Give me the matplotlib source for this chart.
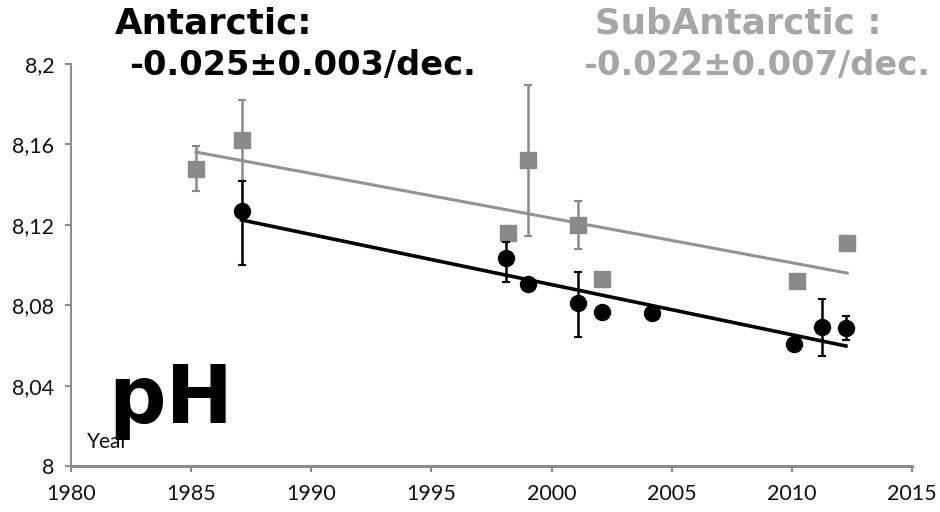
import numpy as np
import matplotlib.pyplot as plt
from matplotlib.ticker import FuncFormatter

# SubAntarctic series (grey squares)
sub_years = [1985.2, 1987.1, 1998.2, 1999.0, 2001.1, 2002.1, 2010.2, 2012.3]
sub_ph = [8.148, 8.162, 8.116, 8.152, 8.120, 8.093, 8.092, 8.111]
sub_err = [0.011, 0.020, 0.0, 0.0375, 0.012, 0.0, 0.0, 0.0]

# Antarctic series (black circles)
ant_years = [1987.1, 1998.1, 1999.0, 2001.1, 2002.1, 2004.2, 2010.1, 2011.25, 2012.25]
ant_ph = [8.127, 8.1035, 8.0905, 8.081, 8.0766, 8.076, 8.0607, 8.069, 8.0687]
ant_err_low = [0.027, 0.012, 0.0, 0.017, 0.0, 0.0, 0.0, 0.0142, 0.006]
ant_err_up = [0.015, 0.008, 0.0, 0.0154, 0.0, 0.0, 0.0, 0.0142, 0.006]

# trend lines (start, end)
sub_trend_years = [1985.2, 2012.3]
sub_trend_ph = [8.1562, 8.0960]
ant_trend_years = [1987.1, 2012.25]
ant_trend_ph = [8.1224, 8.0597]

x_ticks = [1980, 1985, 1990, 1995, 2000, 2005, 2010, 2015]
y_ticks = [8.0, 8.04, 8.08, 8.12, 8.16, 8.2]

grey_mark = '#8a8a8a'
grey_line = '#939393'
grey_text = '#a6a6a6'
spine_col = '#8c8c8c'

fig = plt.figure(figsize=(9.4, 5.12), dpi=100)
ax = fig.add_axes([71/940, 46/512, 841/940, 402/512])

ax.plot(sub_trend_years, sub_trend_ph, color=grey_line, lw=2.2, zorder=2)
ax.plot(ant_trend_years, ant_trend_ph, color='black', lw=2.6, zorder=3)

ax.errorbar(sub_years, sub_ph, yerr=sub_err, fmt='s', ms=11.5, color=grey_mark,
            ecolor=grey_mark, elinewidth=1.8, capsize=3, capthick=1.5, zorder=4)
ax.errorbar(ant_years, ant_ph, yerr=[ant_err_low, ant_err_up], fmt='o', ms=11.5,
            color='black', ecolor='black', elinewidth=1.8, capsize=3, capthick=1.5, zorder=5)

ax.set_xlim(1980, 2015)
ax.set_ylim(8.0, 8.2)
ax.set_xticks(x_ticks)
ax.set_yticks(y_ticks)
ax.yaxis.set_major_formatter(FuncFormatter(lambda v, p: ('%g' % round(v, 2)).replace('.', ',')))

for s in ['top', 'right']:
    ax.spines[s].set_visible(False)
ax.spines['left'].set_color(spine_col)
ax.spines['left'].set_linewidth(1.5)
ax.spines['bottom'].set_color(spine_col)
ax.spines['bottom'].set_linewidth(2.2)
ax.tick_params(axis='both', colors=spine_col, labelcolor='#111111', length=4, width=1.5,
               labelsize=15.5)
ax.tick_params(axis='y', pad=8)
ax.tick_params(axis='x', pad=9)
for lab in ax.get_xticklabels() + ax.get_yticklabels():
    lab.set_family('Lato')

fig.text(115/940, 1 - 33/512, 'Antarctic:', fontsize=25.7, fontweight='bold',
         family='DejaVu Sans', color='black', va='baseline')
fig.text(129/940, 1 - 75/512, '-0.025±0.003/dec.', fontsize=24.2, fontweight='bold',
         family='DejaVu Sans', color='black', va='baseline')
fig.text(595/940, 1 - 33/512, 'SubAntarctic :', fontsize=25.7, fontweight='bold',
         family='DejaVu Sans', color=grey_text, va='baseline')
fig.text(583/940, 1 - 75/512, '-0.022±0.007/dec.', fontsize=24.2, fontweight='bold',
         family='DejaVu Sans', color=grey_text, va='baseline')

fig.text(87/940, 1 - 448/512, 'Year', fontsize=15, family='Lato', color='#111111',
         va='baseline', zorder=5)
fig.text(108/940, 1 - 423/512, 'pH', fontsize=58, fontweight='bold',
         family='DejaVu Sans', color='black', va='baseline', zorder=6)

fig.savefig('out.png', dpi=100)
